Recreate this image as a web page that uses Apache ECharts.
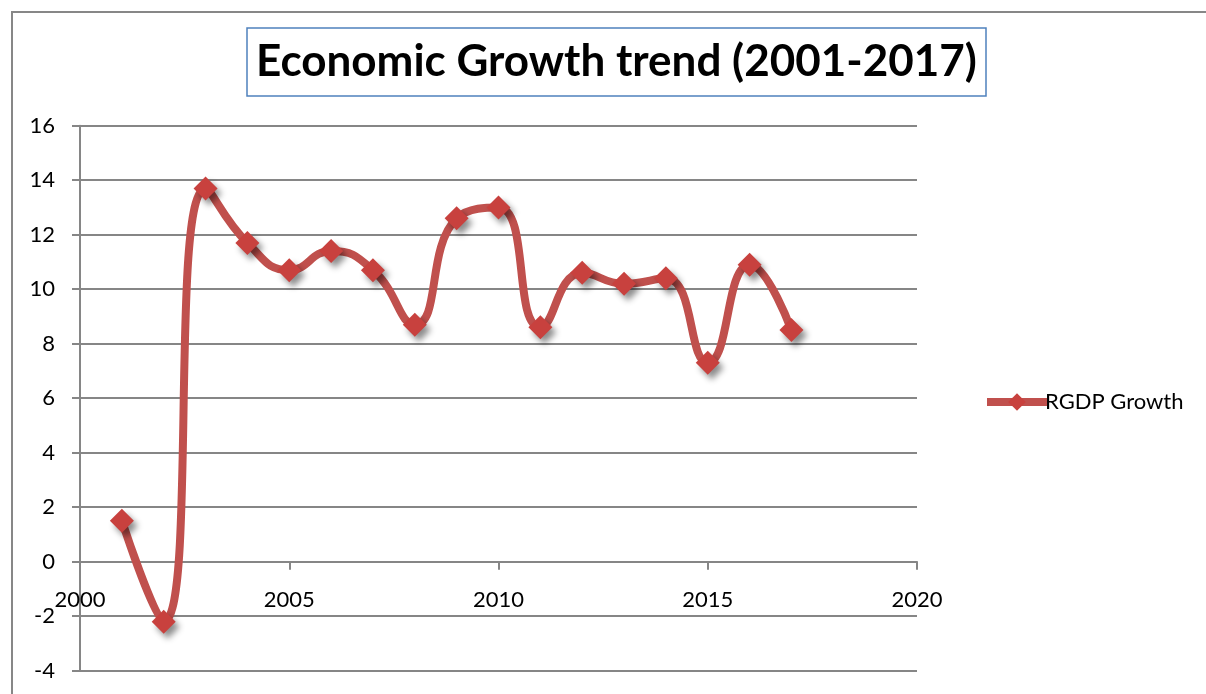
<!DOCTYPE html>
<html>
<head>
<meta charset="utf-8">
<script src="https://cdn.jsdelivr.net/npm/echarts@6/dist/echarts.min.js"></script>
<style>
html,body{margin:0;padding:0;background:#fff;overflow:hidden;}
#chart{width:1206px;height:694px;}
</style>
</head>
<body>
<div id="chart"></div>
<script>
const years = [2001,2002,2003,2004,2005,2006,2007,2008,2009,2010,2011,2012,2013,2014,2015,2016,2017];
const growth = [1.5,-2.2,13.7,11.7,10.7,11.4,10.7,8.7,12.6,13.0,8.6,10.6,10.2,10.4,7.3,10.9,8.5];
const seriesName = 'RGDP Growth';
const titleText = 'Economic Growth trend (2001-2017)';

const chart = echarts.init(document.getElementById('chart'), null, {renderer:'canvas'});
const font = 'Lato, "Open Sans", sans-serif';
chart.setOption({
  animation:false,
  backgroundColor:'#ffffff',
  graphic:[{
    type:'rect', silent:true, z:-10,
    shape:{x:12,y:12,width:1400,height:900},
    style:{fill:'none',stroke:'#878787',lineWidth:2}
  }],
  title:{
    text:titleText,
    left:247, top:28,
    padding:[12,9,12,9],
    borderColor:'#4f81bd', borderWidth:1.5,
    textStyle:{fontFamily:font,fontWeight:'bold',fontSize:44,color:'#000'}
  },
  legend:{
    data:[seriesName],
    left:978, top:386,
    itemWidth:60, itemHeight:22,
    lineStyle:{width:8},
    textStyle:{fontFamily:font,fontSize:22,color:'#000',padding:[0,0,0,-7]}
  },
  grid:{left:80,right:289,top:125.7,bottom:23.3,containLabel:false,outerBoundsMode:'none'},
  xAxis:{
    type:'value', min:2000, max:2020, interval:5,
    axisLine:{show:true,onZero:true,lineStyle:{color:'#868686',width:2}},
    axisTick:{show:true,length:8,lineStyle:{color:'#868686',width:2}},
    axisLabel:{margin:-82,fontFamily:font,fontSize:22,color:'#000',formatter:v=>String(v)},
    splitLine:{show:false}
  },
  yAxis:{
    type:'value', min:-4, max:16, interval:2,
    axisLine:{show:true,lineStyle:{color:'#868686',width:2}},
    axisTick:{show:true,length:8,inside:false,lineStyle:{color:'#868686',width:2}},
    axisLabel:{margin:25,fontFamily:font,fontSize:22,color:'#000'},
    splitLine:{show:true,lineStyle:{color:'#868686',width:2}}
  },
  series:[{
    name:seriesName,
    type:'line',
    data:years.map((y,i)=>[y,growth[i]]),
    smooth:0.5,
    symbol:'diamond',
    symbolSize:24,
    lineStyle:{color:'#c0504d',width:8},
    itemStyle:{color:'#c8413e',shadowBlur:6,shadowOffsetX:4,shadowOffsetY:5,shadowColor:'rgba(0,0,0,0.45)'}
  }]
});
</script>
</body>
</html>
